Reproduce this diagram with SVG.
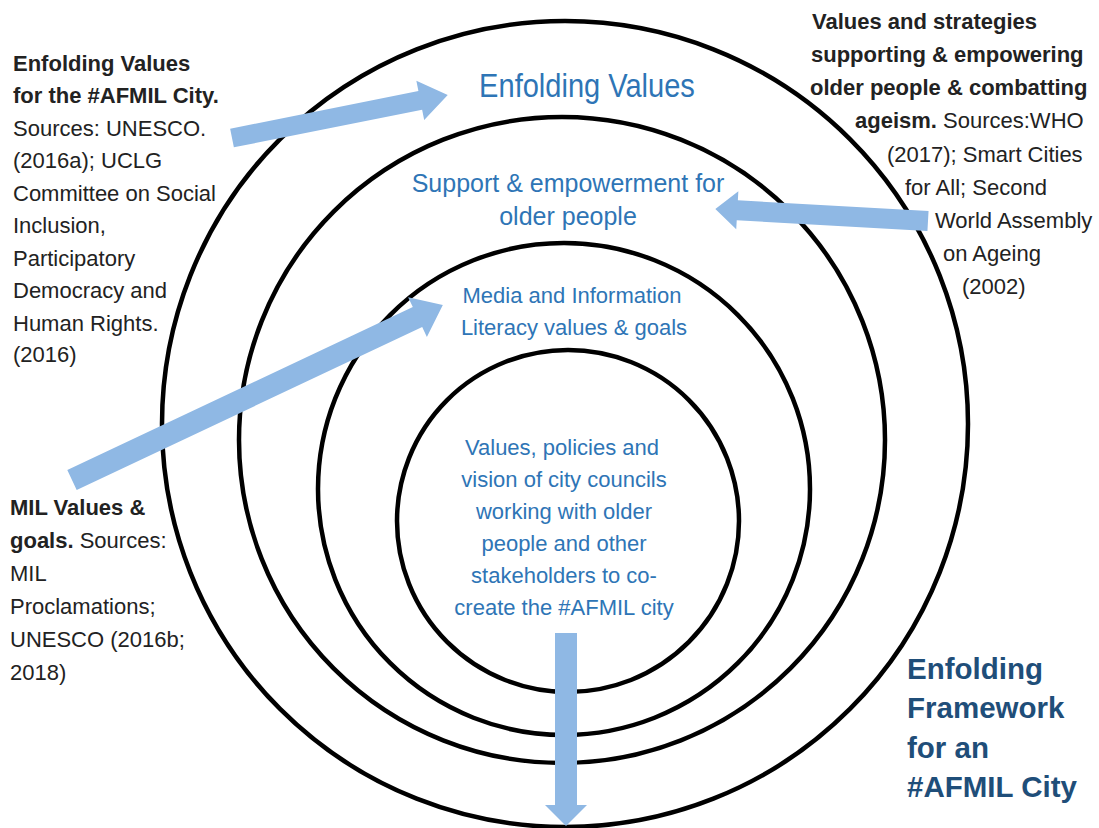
<svg xmlns="http://www.w3.org/2000/svg" width="1099" height="828" viewBox="0 0 1099 828">
<style>
.ring{fill:none;stroke:#000;stroke-width:4.5}
.arr{fill:#8FB8E4}
.t{font-family:"Liberation Sans",Arial,sans-serif;font-size:22px;fill:#222}
.b{font-weight:bold}
.blue{font-family:"Liberation Sans",Arial,sans-serif;fill:#2E75B6;text-anchor:middle}
.navy{font-family:"Liberation Sans",Arial,sans-serif;font-weight:bold;font-size:29.5px;fill:#1F4E79}
</style>
<rect width="1099" height="828" fill="#fff"/>
<g id="ring-outer"><circle class="ring" cx="565" cy="424" r="403"/></g>
<g id="ring-2"><circle class="ring" cx="562" cy="440" r="323"/></g>
<g id="ring-3"><circle class="ring" cx="564" cy="489" r="246"/></g>
<g id="ring-inner"><circle class="ring" cx="568" cy="521" r="171"/></g>

<g id="label-enfolding" class="blue"><text transform="translate(587,97) scale(0.88,1)" font-size="33">Enfolding Values</text></g>
<g id="label-support" class="blue" font-size="25"><text x="568" y="192">Support &amp; empowerment for</text><text x="568" y="225">older people</text></g>
<g id="label-mil" class="blue" font-size="22"><text x="572" y="303">Media and Information</text><text x="574" y="335">Literacy values &amp; goals</text></g>
<g id="label-core" class="blue" font-size="22">
<text x="562" y="455">Values, policies and</text>
<text x="564" y="487">vision of city councils</text>
<text x="564" y="519">working with older</text>
<text x="564" y="551">people and other</text>
<text x="564" y="583">stakeholders to co-</text>
<text x="564" y="615">create the #AFMIL city</text>
</g>

<g id="note-left-top" class="t">
<text x="13" y="71" class="b">Enfolding Values</text>
<text x="13" y="103" class="b">for the #AFMIL City.</text>
<text x="13" y="136">Sources: UNESCO.</text>
<text x="13" y="168">(2016a); UCLG</text>
<text x="13" y="201">Committee  on Social</text>
<text x="13" y="233">Inclusion,</text>
<text x="13" y="266">Participatory</text>
<text x="13" y="298">Democracy and</text>
<text x="13" y="331">Human Rights.</text>
<text x="13" y="362">(2016)</text>
</g>

<g id="note-right-top" class="t">
<text x="812" y="29" class="b">Values and strategies</text>
<text x="811" y="62" class="b">supporting &amp; empowering</text>
<text x="810" y="95" class="b">older people &amp; combatting</text>
<text x="855" y="128"><tspan class="b">ageism.</tspan> Sources:WHO</text>
<text x="887" y="162">(2017); Smart Cities</text>
<text x="905" y="195">for All;  Second</text>
<text x="935" y="228">World Assembly</text>
<text x="943" y="261">on Ageing</text>
<text x="962" y="294">(2002)</text>
</g>

<g id="note-left-bottom" class="t">
<text x="10" y="515" class="b">MIL Values &amp;</text>
<text x="10" y="548"><tspan class="b">goals.</tspan> Sources:</text>
<text x="10" y="581">MIL</text>
<text x="10" y="614">Proclamations;</text>
<text x="10" y="647">UNESCO (2016b;</text>
<text x="10" y="680">2018)</text>
</g>

<g id="title" class="navy">
<text x="907" y="679">Enfolding</text>
<text x="907" y="718">Framework</text>
<text x="907" y="758">for an</text>
<text x="907" y="797">#AFMIL City</text>
</g>

<g id="connectors">
<polygon class="arr" transform="translate(232,138) rotate(-11.3)" points="0,-9.5 192,-9.5 192,-20 220,0 192,20 192,9.5 0,9.5"/>
<polygon class="arr" transform="translate(928,221) rotate(183.2)" points="0,-10 191,-10 191,-19 213,0 191,19 191,10 0,10"/>
<polygon class="arr" transform="translate(72,480) rotate(-25.25)" points="0,-11 382,-11 382,-22 410,0 382,22 382,11 0,11"/>
<polygon class="arr" transform="translate(566,633) rotate(90)" points="0,-11 172,-11 172,-21 193,0 172,21 172,11 0,11"/>
</g>
</svg>
